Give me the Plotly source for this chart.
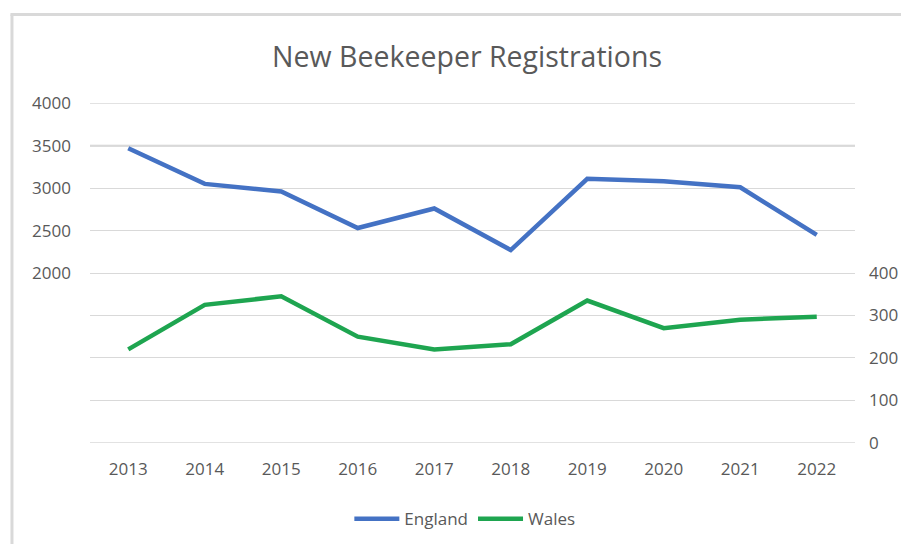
import plotly.graph_objects as go

years = ["2013", "2014", "2015", "2016", "2017", "2018", "2019", "2020", "2021", "2022"]
england = [3470, 3050, 2960, 2530, 2760, 2270, 3110, 3080, 3010, 2450]
wales = [220, 325, 345, 250, 220, 232, 335, 270, 290, 297]

left_ticks = [0, 500, 1000, 1500, 2000, 2500, 3000, 3500, 4000]
left_text = ["", "", "", "", "2000", "2500", "3000", "3500", "4000"]
right_ticks = [0, 100, 200, 300, 400]
right_text = ["0", "100", "200", "300", "400"]

font_family = "Open Sans, Liberation Sans, sans-serif"
grey = "#595959"
grid = "#D9D9D9"

fig = go.Figure()
fig.add_trace(go.Scatter(x=years, y=england, name="England", mode="lines",
                         line=dict(color="#4472C4", width=4.5), yaxis="y"))
fig.add_trace(go.Scatter(x=years, y=wales, name="Wales", mode="lines",
                         line=dict(color="#1EA550", width=4.5), yaxis="y2"))

fig.update_layout(
    width=909, height=544,
    margin=dict(l=82, r=62, t=95, b=109),
    paper_bgcolor="white", plot_bgcolor="white",
    title=dict(text="New Beekeeper Registrations", x=0.505, xanchor="center",
               y=0.91, yanchor="middle", yref="container",
               font=dict(family=font_family, size=28.5, color=grey)),
    xaxis=dict(type="category", range=[-0.5, 9.5], showgrid=False,
               showline=False, ticks="", ticklabelstandoff=14,
               tickfont=dict(family=font_family, size=17, color=grey)),
    yaxis=dict(range=[-3, 4003], tickvals=left_ticks, ticktext=left_text,
               showgrid=True, gridcolor=grid, gridwidth=1,
               zeroline=False, showline=False, ticks="", ticklabelstandoff=18,
               tickfont=dict(family=font_family, size=17, color=grey)),
    yaxis2=dict(range=[-0.6, 800.6], tickvals=right_ticks, ticktext=right_text,
                overlaying="y", side="right", showgrid=False, zeroline=False,
                showline=False, ticks="", ticklabelstandoff=13,
                tickfont=dict(family=font_family, size=17, color=grey)),
    legend=dict(orientation="h", x=0.49, xanchor="center", y=-0.224, yanchor="middle",
                font=dict(family=font_family, size=17, color=grey),
                itemwidth=45, tracegroupgap=0),
    showlegend=True,
    shapes=[
        dict(type="line", xref="paper", yref="paper", x0=-0.102, x1=-0.102,
             y0=1.26, y1=-0.4, line=dict(color=grid, width=3)),
        dict(type="line", xref="paper", yref="paper", x0=-0.104, x1=1.2,
             y0=1.26, y1=1.26, line=dict(color=grid, width=3)),
        dict(type="line", xref="paper", yref="y", x0=0, x1=1,
             y0=3500, y1=3500, line=dict(color="#D0D0D0", width=2), layer="below"),
        dict(type="line", xref="paper", yref="y", x0=0, x1=1,
             y0=0, y1=0, line=dict(color=grid, width=1), layer="below"),
        dict(type="line", xref="paper", yref="y", x0=0, x1=1,
             y0=4000, y1=4000, line=dict(color=grid, width=1), layer="below"),
    ],
)

fig.write_html("out.html")
